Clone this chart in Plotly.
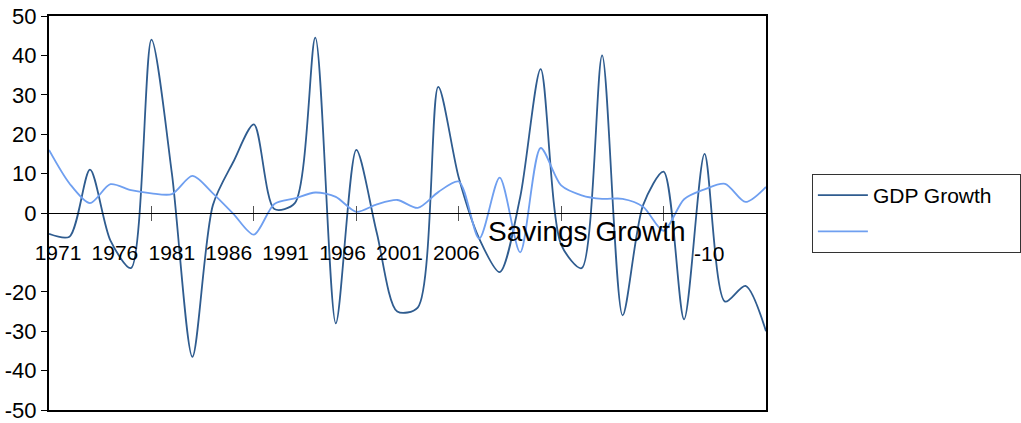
import plotly.graph_objects as go

# Annual growth rates, 1971-2006 (%)
years = list(range(1971, 2007))
gdp_growth = [-5.3, -6, 11, -7, -14, 44, 10, -36.5, 2, 13,
              22.5, 1, 2.5, 44.5, -28, 16, -5, -25, -24, 32,
              9, -6.5, -15, 4, 36.5, -8, -14, 40, -26, 2,
              10.5, -27, 15, -22.5, -18.5, -30]
savings_growth = [16, 7.5, 2.5, 7.3, 5.8, 5, 4.8, 9.4, 5, -0.2,
                  -5.5, 2.3, 3.7, 5.2, 4.1, 0.3, 2.2, 3.3, 1.3, 5.3,
                  8, -6.5, 9, -10, 16.5, 7, 4.5, 3.6, 3.6, 1.6,
                  -4.5, 3.5, 6, 7.4, 2.8, 6.6]

y_ticks = [50, 40, 30, 20, 10, 0, -20, -30, -40, -50]
zero_line_ticks = [1976, 1981, 1986, 1991, 1996, 2001]
year_labels = [1971, 1976, 1981, 1986, 1991, 1996, 2001, 2006]

FONT = "Liberation Sans, Arial, sans-serif"
GDP_COLOR = "#2f5c8f"
SAV_COLOR = "#6f9ff0"

fig = go.Figure()
fig.add_trace(go.Scatter(
    x=years, y=gdp_growth, mode="lines",
    name="GDP Growth" + "\u00a0" * 4,
    line=dict(color=GDP_COLOR, width=1.8, shape="spline", smoothing=0.8),
    legendgroup="a",
))
fig.add_trace(go.Scatter(
    x=years, y=savings_growth, mode="lines", name=" ",
    line=dict(color=SAV_COLOR, width=1.8, shape="spline", smoothing=0.8),
    legendgroup="b",
))

# invisible helpers so the overlay axes get drawn
for ax in ("x2", "x3", "x4"):
    fig.add_trace(go.Scatter(x=[years[0]], y=[0], xaxis=ax, mode="markers",
                             marker=dict(opacity=0), showlegend=False,
                             hoverinfo="skip"))

fig.update_layout(
    width=1021, height=423,
    margin=dict(l=49, r=255, t=16, b=13, autoexpand=False),
    paper_bgcolor="white", plot_bgcolor="white",
    font=dict(family=FONT, size=21, color="black"),
    xaxis=dict(range=[years[0], years[-1]], showline=True, mirror=True,
               linecolor="black", linewidth=2, showgrid=False,
               zeroline=False, ticks="", showticklabels=False,
               automargin=False),
    yaxis=dict(range=[-50, 50], tickvals=y_ticks,
               ticktext=[str(v) for v in y_ticks],
               showline=True, mirror=True, linecolor="black", linewidth=2,
               showgrid=False, zeroline=False, ticks="outside", ticklen=6,
               tickcolor="black", tickwidth=1, automargin=False,
               tickfont=dict(size=22), ticklabelstandoff=0),
    # the zero line with ticks hanging below it
    xaxis2=dict(overlaying="x", anchor="free", position=0.5, side="bottom",
                range=[years[0], years[-1]], showline=True, linecolor="black",
                linewidth=1, showgrid=False, zeroline=False,
                tickvals=zero_line_ticks, ticks="outside", ticklen=7,
                tickcolor="#555", tickwidth=1, showticklabels=False,
                automargin=False),
    # the same ticks poking above the zero line
    xaxis3=dict(overlaying="x", anchor="free", position=0.5, side="top",
                range=[years[0], years[-1]], showline=False, showgrid=False,
                zeroline=False, tickvals=zero_line_ticks, ticks="outside",
                ticklen=7, tickcolor="#555", tickwidth=1,
                showticklabels=False, automargin=False),
    # year labels row
    xaxis4=dict(overlaying="x", anchor="free", position=0.5, side="bottom",
                range=[1970.21, 2033.2], showline=False, showgrid=False,
                zeroline=False, tickvals=year_labels,
                ticktext=[str(y) for y in year_labels], ticks="",
                tickfont=dict(size=21), ticklabelstandoff=25,
                automargin=False),
    showlegend=True,
    legend=dict(x=1.064, y=0.599, xanchor="left", yanchor="top",
                bordercolor="#333", borderwidth=1, bgcolor="white",
                font=dict(size=21), traceorder="grouped", tracegroupgap=6,
                itemwidth=50),
    annotations=[
        dict(text="Savings Growth", xref="paper", yref="paper",
             x=(587 - 49) / 717, y=(410 - 231) / 394, showarrow=False,
             font=dict(size=28), xanchor="center", yanchor="middle"),
        dict(text="-10", xref="paper", yref="paper",
             x=(709 - 49) / 717, y=(410 - 253) / 394, showarrow=False,
             font=dict(size=21), xanchor="center", yanchor="middle"),
    ],
)

fig.write_html("out.html")
